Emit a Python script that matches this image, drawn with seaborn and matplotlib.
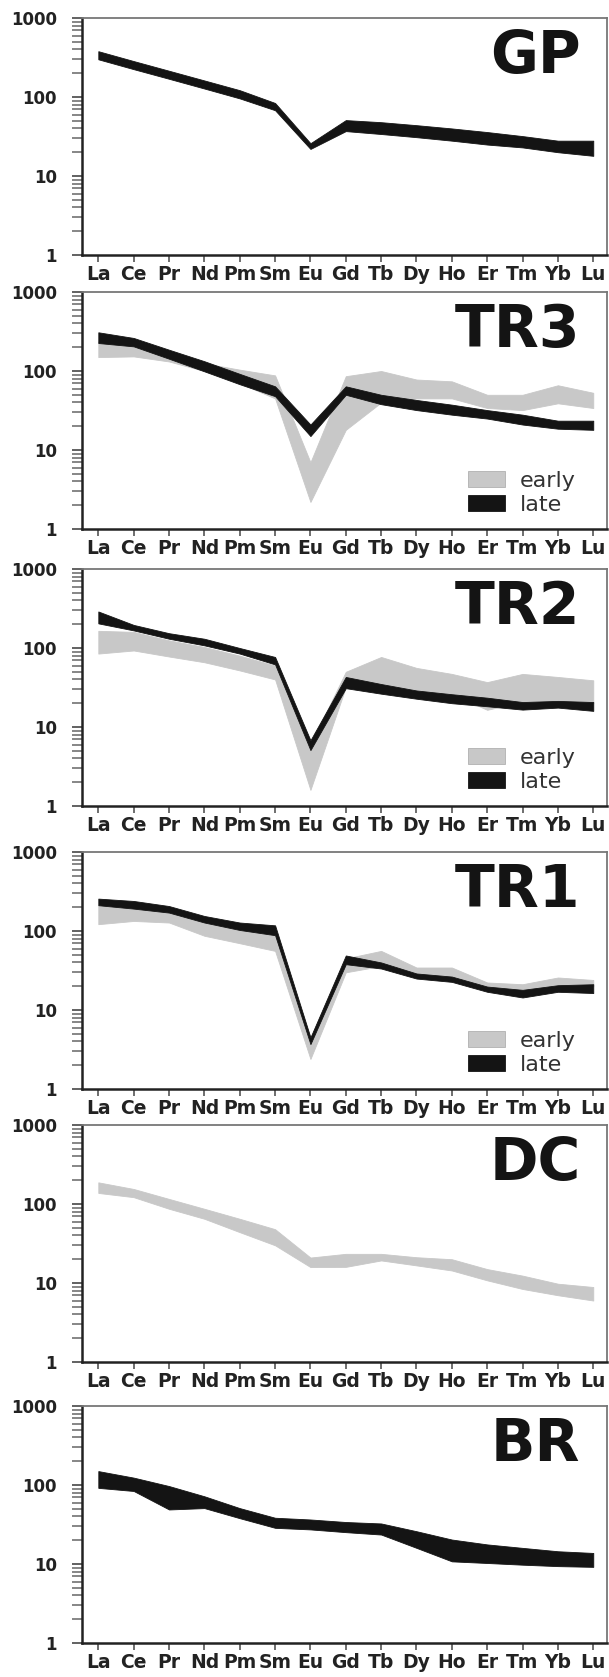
import matplotlib
matplotlib.use('Agg')
import matplotlib.pyplot as plt
from matplotlib.patches import Patch
from matplotlib.ticker import LogLocator, NullFormatter
import seaborn as sns
import pandas as pd

elements = ['La', 'Ce', 'Pr', 'Nd', 'Pm', 'Sm', 'Eu', 'Gd', 'Tb', 'Dy', 'Ho', 'Er', 'Tm', 'Yb', 'Lu']

# GP - single (black) envelope
gp_low = [300, 225, 170, 128, 96, 68, 22, 37, 34, 31, 28, 25, 23, 20, 18]
gp_high = [380, 285, 215, 162, 122, 84, 26, 51, 48, 44, 40, 36, 32, 28, 28]

# TR3
tr3_early_low = [150, 153, 132, 100, 70, 45, 2.2, 18, 40, 45, 45, 34, 32, 39, 34]
tr3_early_high = [235, 220, 175, 125, 104, 88, 7, 86, 100, 78, 74, 50, 50, 66, 53]
tr3_late_low = [226, 205, 143, 99, 68, 48, 15, 50, 38, 32, 28, 25, 21, 18.6, 18]
tr3_late_high = [309, 262, 186, 133, 92, 64, 21, 64, 50, 43, 37.5, 32, 28, 23.5, 23.5]

# TR2
tr2_early_low = [85, 93, 78, 66, 52, 40, 1.6, 32, 35, 29, 26, 16.5, 21, 21, 20]
tr2_early_high = [165, 160, 125, 103, 80, 60, 6, 50, 77, 56, 47, 37, 47, 43, 39]
tr2_late_low = [205, 167, 131, 108, 85, 62, 5.1, 31, 26.4, 22.8, 20, 18.3, 16.6, 17.6, 16]
tr2_late_high = [290, 196, 154, 131, 100, 77, 6.8, 43, 35, 29, 26, 23.5, 20.7, 21.4, 20.7]

# TR1
tr1_early_low = [122, 134, 128, 87, 70, 56, 2.4, 30, 36, 28, 26.5, 19, 17, 20, 20]
tr1_early_high = [210, 190, 171, 128, 103, 88, 4.5, 45, 56, 34.5, 34.5, 22.3, 21.2, 25.8, 24]
tr1_late_low = [212, 192, 171, 128, 103, 88.5, 3.7, 38, 33.5, 25, 22.7, 17, 14.4, 17, 16.4]
tr1_late_high = [257, 240, 207, 155, 128, 118, 4.5, 49, 40, 29, 26.5, 19.8, 18, 20.6, 21.2]

# DC - single (grey) envelope
dc_low = [138, 122, 87, 65, 44, 30, 15.9, 16, 19.3, 16.7, 14.4, 10.8, 8.4, 7, 6]
dc_high = [188, 155, 116, 87, 65, 48, 21, 23.4, 23.4, 21.2, 20, 15, 12.4, 9.8, 8.9]

# BR - single (black) envelope
br_low = [92, 84, 49, 51, 38, 28.7, 27.4, 25.3, 23.6, 16, 10.8, 10.3, 9.8, 9.4, 9.2]
br_high = [150, 124, 97, 72, 51, 38.5, 36.6, 34, 32.6, 26, 20.4, 17.7, 16, 14.5, 13.8]

grey = '#c8c8c8'
black = '#141414'

panels = [
    ('GP', [('late', gp_low, gp_high)], False),
    ('TR3', [('early', tr3_early_low, tr3_early_high), ('late', tr3_late_low, tr3_late_high)], True),
    ('TR2', [('early', tr2_early_low, tr2_early_high), ('late', tr2_late_low, tr2_late_high)], True),
    ('TR1', [('early', tr1_early_low, tr1_early_high), ('late', tr1_late_low, tr1_late_high)], True),
    ('DC', [('early', dc_low, dc_high)], False),
    ('BR', [('late', br_low, br_high)], False),
]

sns.set_style('ticks')
plt.rcParams['font.family'] = ['DejaVu Sans']

W, H = 609, 1677
fig = plt.figure(figsize=(W / 100, H / 100), dpi=100)

panel_tops = [18, 292, 569, 852, 1125, 1406]  # pixel rows of each panel's top spine
panel_h = 237
ax_left = 81.7
ax_right = 606.7

for (name, series, show_legend), top in zip(panels, panel_tops):
    ax = fig.add_axes([ax_left / W, 1 - (top + panel_h) / H, (ax_right - ax_left) / W, panel_h / H])
    ax.set_yscale('log')

    # long-form table: each element has a low and a high value -> band spans min..max
    rows = []
    for stage, low, high in series:
        for i in range(len(elements)):
            rows.append({'pos': i, 'value': low[i], 'stage': stage})
            rows.append({'pos': i, 'value': high[i], 'stage': stage})
    df = pd.DataFrame(rows)
    order = [s[0] for s in series]
    sns.lineplot(data=df, x='pos', y='value', hue='stage', hue_order=order,
                 palette={'early': grey, 'late': black}, errorbar=('pi', 100),
                 linewidth=0, err_kws={'alpha': 1, 'linewidth': 0.6}, legend=False, ax=ax)

    ax.set_xlim(-0.47, 14.38)
    ax.set_ylim(1, 1000)
    ax.set_xticks(range(len(elements)))
    ax.set_xticklabels(elements)
    ax.set_yticks([1, 10, 100, 1000])
    ax.set_yticklabels(['1', '10', '100', '1000'])
    ax.yaxis.set_minor_locator(LogLocator(base=10, subs=range(2, 10)))
    ax.yaxis.set_minor_formatter(NullFormatter())
    ax.set_xlabel('')
    ax.set_ylabel('')

    ax.tick_params(axis='x', direction='out', length=5, width=1.2, color='#555555', pad=2.5,
                   labelsize=13.5, labelcolor='#222222')
    ax.tick_params(axis='y', which='major', direction='out', length=7, width=1.3, color='#555555',
                   pad=11, labelsize=12, labelcolor='#222222')
    ax.tick_params(axis='y', which='minor', direction='out', length=7, width=1.1, color='#666666')
    for lab in ax.get_xticklabels() + ax.get_yticklabels():
        lab.set_fontweight('bold')

    for side in ['left', 'bottom']:
        ax.spines[side].set_color('#222222')
        ax.spines[side].set_linewidth(1.8)
    for side in ['top', 'right']:
        ax.spines[side].set_visible(True)
        ax.spines[side].set_color('#777777')
        ax.spines[side].set_linewidth(1.3)

    ax.text(0.95, 0.77, name, transform=ax.transAxes, ha='right', va='baseline',
            fontsize=42, fontweight='bold', color='#141414')

    if show_legend:
        handles = [Patch(facecolor=grey, edgecolor='#b0b0b0', linewidth=0.6),
                   Patch(facecolor=black, edgecolor=black, linewidth=0.6)]
        ax.legend(handles, ['early', 'late'], loc='lower left', bbox_to_anchor=(0.736, 0.06),
                  frameon=False, fontsize=16, handlelength=1.67, handleheight=0.72,
                  handletextpad=0.65, labelspacing=0.18, borderpad=0, borderaxespad=0,
                  labelcolor='#333333')

fig.savefig('out.png', dpi=100)
